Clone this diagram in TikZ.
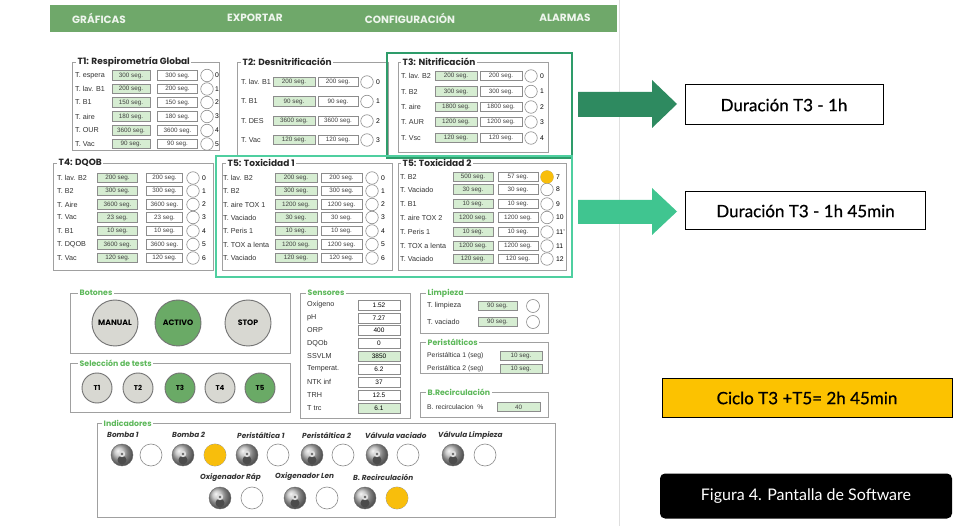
\documentclass[tikz,border=0pt]{standalone}
\usepackage{fontspec}
\setmainfont{Liberation Sans}
\newfontfamily\popfont{Poppins}
\newfontfamily\latofont{Lato}
\newfontfamily\latoheavy[FakeBold=0.6]{Lato}
\usetikzlibrary{calc}

\definecolor{barGreen}{HTML}{6FA86A}
\definecolor{fieldGreen}{HTML}{D6EDD2}
\definecolor{frameGray}{HTML}{A0A0A0}
\definecolor{hlDark}{HTML}{2E9C6A}
\definecolor{hlLight}{HTML}{4FCFA0}
\definecolor{arrowDark}{HTML}{2E8A60}
\definecolor{arrowLight}{HTML}{40C590}
\definecolor{ledYellow}{HTML}{F8BE0C}
\definecolor{btnGray}{HTML}{D8D8D2}
\definecolor{btnGreen}{HTML}{6AAA66}
\definecolor{titleGreen}{HTML}{5DB85A}
\definecolor{noteYellow}{HTML}{FCC200}

\tikzset{
  menu/.style={text=white!88!barGreen, font=\popfont\bfseries\fontsize{10.5}{11}\selectfont, inner sep=0},
  frame/.style={draw=frameGray, line width=0.8},
  ptitle/.style={anchor=west, fill=white, inner xsep=1.5, inner ysep=0.5,
    font=\popfont\bfseries\fontsize{9}{10}\selectfont, text=black!85},
  gtitle/.style={ptitle, text=titleGreen, font=\popfont\bfseries\fontsize{7.8}{8}\selectfont},
  rowlabel/.style={anchor=west, inner sep=0, font=\fontsize{7.2}{8}\selectfont, text=black!80},
  smlabel/.style={rowlabel, font=\fontsize{7.2}{8}\selectfont},
  gfield/.style={draw=black!45, line width=0.6, fill=fieldGreen, minimum height=9.5, inner sep=0,
    font=\fontsize{6.3}{7}\selectfont, text=black!75},
  wfield/.style={gfield, fill=white},
  led/.style={circle, draw=black!45, line width=0.6, fill=white, minimum size=12.5, inner sep=0},
  bigled/.style={led, minimum size=22},
  numlab/.style={anchor=west, inner sep=0, font=\fontsize{6.8}{7}\selectfont},
  bigbtn/.style={circle, draw=black!55, line width=0.9, fill=btnGray, minimum size=46, inner sep=0,
    font=\popfont\bfseries\fontsize{7.8}{8}\selectfont},
  smallbtn/.style={bigbtn, minimum size=30, font=\popfont\bfseries\fontsize{7}{8}\selectfont},
  knob/.style={circle, minimum size=22, inner sep=0, draw=black!60, shading=ball, ball color=gray!55,
    path picture={
      \fill[black!70] (path picture bounding box.center) ++(0,5) circle (4.5);
      \fill[gray!25] (path picture bounding box.center) ++(0,-1) circle (3.2);
      \fill[black!60] (path picture bounding box.center) ++(0,-1) circle (1.3);
    }},
  indlab/.style={anchor=west, inner sep=0, font=\popfont\bfseries\itshape\fontsize{7.3}{8}\selectfont, text=black!80},
  sensval/.style={draw=black!45, line width=0.6, fill=white, minimum height=10, minimum width=42, inner sep=0,
    font=\fontsize{6.5}{7}\selectfont},
  note/.style={draw=black, line width=1, fill=white, inner sep=0,
    font=\latoheavy\fontsize{17}{19}\selectfont},
}

% one row per entry: y / label / value / set-point / index
\newcommand\panelrows[2]{%
  \foreach \yy/\lab/\gv/\wv/\nn [count=\k] in {#2} {
    \node[rowlabel] (#1l\k) at (\lx,\yy) {\lab};
    \node[gfield, minimum width=\gw] (#1g\k) at (\gc,\yy) {\gv};
    \node[wfield, minimum width=\ww] (#1w\k) at (\wc,\yy) {\wv};
    \node[led] (#1c\k) at (\cx,\yy) {};
    \node[numlab] (#1n\k) at (\nx,\yy) {\nn};
  }}

\begin{document}
\begin{tikzpicture}[x=1pt,y=-1pt]
\useasboundingbox[fill=white] (0,0) rectangle (953,526);

% window edge and menu bar
\draw[gray!25, line width=0.8] (619,0) -- (619,526);
\fill[barGreen] (50,5) rectangle (617,32);
\node[menu] (mGraf) at (99,18) {GRÁFICAS};
\node[menu] (mExp) at (255,18) {EXPORTAR};
\node[menu] (mConf) at (410,18) {CONFIGURACIÓN};
\node[menu] (mAlarm) at (565,18) {ALARMAS};

% ---- T1
\draw[frame] (72,62) rectangle (219,150);
\node[ptitle] (t1title) at (76,62) {T1: Respirometría Global};
\def\lx{75}\def\gc{131}\def\gw{38}\def\wc{177.5}\def\ww{40}\def\cx{207}\def\nx{215}
\panelrows{a}{75.5/T. espera/300 seg./300 seg./0, 89/T. lav. B1/200 seg./200 seg./1,
  102.5/T. B1/150 seg./150 seg./2, 116.5/T. aire/180 seg./180 seg./3,
  130.5/T. OUR/3600 seg./3600 seg./4, 144/T. Vac/90 seg./90 seg./5}

% ---- T2
\draw[frame] (237,62) rectangle (388,155);
\node[ptitle] (t2title) at (241,62) {T2: Desnitrificación};
\def\lx{241}\def\gc{294}\def\gw{42}\def\wc{338}\def\ww{40}\def\cx{367}\def\nx{376}
\panelrows{b}{82/T. lav. B1/200 seg./200 seg./0, 101.5/T. B1/90 seg./90 seg./1,
  121/T. DES/3600 seg./3600 seg./2, 140/T. Vac/120 seg./120 seg./3}

% ---- T3
\draw[hlDark, line width=2.6] (387,53) rectangle (572,158);
\draw[frame] (398,62) rectangle (548,152);
\node[ptitle] (t3title) at (401,62) {T3: Nitrificación};
\def\lx{401}\def\gc{456}\def\gw{42}\def\wc{501}\def\ww{42}\def\cx{531}\def\nx{540}
\panelrows{c}{76/T. lav. B2/200 seg./200 seg./0, 91.5/T. B2/300 seg./300 seg./1,
  107/T. aire/1800 seg./1800 seg./2, 122/T. AUR/1200 seg./1200 seg./3,
  138/T. Vsc/120 seg./120 seg./4}

% ---- T4
\draw[frame] (53,163) rectangle (213,270);
\node[ptitle] (t4title) at (57,163) {T4: DQOB};
\def\lx{57}\def\gc{117.5}\def\gw{40}\def\wc{164.5}\def\ww{36}\def\cx{193}\def\nx{202}
\panelrows{d}{178/T. lav. B2/200 seg./200 seg./0, 191/T. B2/300 seg./300 seg./1,
  204.5/T. Aire/3600 seg./3600 seg./2, 217.5/T. Vac/23 seg./23 seg./3,
  231/T. B1/10 seg./10 seg./4, 244.5/T. DQOB/3600 seg./3600 seg./5,
  258/T. Vac/120 seg./120 seg./6}

% ---- T5
\draw[hlLight, line width=2.6] (216,156) rectangle (572,277);
\draw[frame] (222,163) rectangle (392,270);
\node[ptitle] (t5atitle) at (226,163) {T5: Toxicidad 1};
\def\lx{223}\def\gc{296}\def\gw{42}\def\wc{341.5}\def\ww{41}\def\cx{372}\def\nx{381}
\panelrows{e}{178/T. lav. B2/200 seg./200 seg./0, 191/T. B2/300 seg./300 seg./1,
  204.5/T. aire TOX 1/1200 seg./1200 seg./2, 217.5/T. Vaciado/30 seg./30 seg./3,
  231/T. Peris 1/10 seg./10 seg./4, 244.5/T. TOX a lenta/1200 seg./1200 seg./5,
  258/T. Vaciado/120 seg./120 seg./6}

\draw[frame] (398,163) rectangle (566,270);
\node[ptitle] (t5btitle) at (401,163) {T5: Toxicidad 2};
\def\lx{400}\def\gc{473}\def\gw{40}\def\wc{518}\def\ww{40}\def\cx{547}\def\nx{556}
\panelrows{f}{177/T. B2/500 seg./57 seg./7, 189.5/T. Vaciado/30 seg./30 seg./8,
  204/T. B1/10 seg./10 seg./9, 217.5/T. aire TOX 2/1200 seg./1200 seg./10,
  232/T. Peris 1/10 seg./10 seg./11', 246/T. TOX a lenta/1200 seg./1200 seg./11,
  259/T. Vaciado/120 seg./120 seg./12}
\fill[ledYellow] (fc1.center) circle (6.5);

% ---- Botones
\draw[frame] (70,293) rectangle (290,353);
\node[gtitle] (botTitle) at (78,293) {Botones};
\node[bigbtn] (bManual) at (115,323) {MANUAL};
\node[bigbtn, fill=btnGreen] (bActivo) at (178,323) {ACTIVO};
\node[bigbtn] (bStop) at (248,323) {STOP};

% ---- test selection
\draw[frame] (70,363) rectangle (290,412);
\node[gtitle] (selTitle) at (78,363) {Selección de tests};
\node[smallbtn] (s1) at (97,388) {T1};
\node[smallbtn] (s2) at (138,388) {T2};
\node[smallbtn, fill=btnGreen] (s3) at (180,388) {T3};
\node[smallbtn] (s4) at (220,388) {T4};
\node[smallbtn, fill=btnGreen] (s5) at (260,388) {T5};

% ---- Sensores
\draw[frame] (300,293) rectangle (410,418);
\node[gtitle] (senTitle) at (306,293) {Sensores};
\foreach \yy/\lab/\val/\fc [count=\k] in {305/Oxígeno/1.52/white, 318/pH/7.27/white,
  330.5/ORP/400/white, 343.5/DQOb/0/white, 356.5/SSVLM/3850/fieldGreen,
  369/Temperat./6.2/white, 382/NTK inf/37/white, 395/TRH/12.5/white, 408/T trc/6.1/fieldGreen} {
  \node[smlabel] (sl\k) at (307,\yy) {\lab};
  \node[sensval, fill=\fc] (sv\k) at (379,\yy) {\val};
}

% ---- Limpieza
\draw[frame] (420,293) rectangle (548,333);
\node[gtitle] (limTitle) at (426,293) {Limpieza};
\node[smlabel] (ll1) at (427,306) {T. limpieza};
\node[gfield, minimum width=39] (lg1) at (497.5,306) {90 seg.};
\node[led, minimum size=13] (lc1) at (533,306) {};
\node[smlabel] (ll2) at (427,322) {T. vaciado};
\node[gfield, minimum width=39] (lg2) at (497.5,322) {90 seg.};
\node[led, minimum size=13] (lc2) at (533,322) {};

% ---- Peristálticos
\draw[frame] (420,342) rectangle (548,373);
\node[gtitle] (perTitle) at (426,342) {Peristálticos};
\node[smlabel, font=\fontsize{6.8}{7}\selectfont] (pl1) at (427,356) {Peristáltica 1 (seg)};
\node[gfield, minimum width=42] (pg1) at (521,356) {10 seg.};
\node[smlabel, font=\fontsize{6.8}{7}\selectfont] (pl2) at (427,369) {Peristáltica 2 (seg)};
\node[gfield, minimum width=42] (pg2) at (521,369) {10 seg.};

% ---- B.Recirculación
\draw[frame] (420,392) rectangle (548,417);
\node[gtitle] (recTitle) at (426,392) {B.Recirculación};
\node[smlabel, font=\fontsize{6.8}{7}\selectfont] (rl1) at (427,407) {B. recirculacion \ \%};
\node[gfield, minimum width=43] (rg1) at (518.5,407) {40};

% ---- Indicadores
\draw[frame] (97,423) rectangle (555,517);
\node[gtitle] (indTitle) at (102,423) {Indicadores};
\foreach \lx/\lab [count=\k] in {107/Bomba 1, 172/Bomba 2, 237/Peristáltica 1,
  302/Peristáltica 2, 365/Válvula vaciado, 438/Válvula Limpieza} {
  \node[indlab] (il\k) at (\lx,435) {\lab};
}
\foreach \kx/\lx [count=\k] in {122/151, 183/215, 247/278, 312/343, 377/408, 453/485} {
  \node[knob] (ik\k) at (\kx,455) {};
  \node[bigled] (ic\k) at (\lx,455) {};
}
\foreach \lx/\lab [count=\k] in {200/Oxigenador Ráp, 275/Oxigenador Len, 353/B. Recirculación} {
  \node[indlab] (jl\k) at (\lx,477) {\lab};
}
\foreach \kx/\lx [count=\k] in {220/252, 295/327, 365/397} {
  \node[knob] (jk\k) at (\kx,498) {};
  \node[bigled] (jc\k) at (\lx,498) {};
}
\fill[ledYellow] (ic2.center) circle (11);
\fill[ledYellow] (jc3.center) circle (11);

% ---- notes on the right
\fill[arrowDark] (578,92) -- (652,92) -- (652,80) -- (677,104) -- (652,128) -- (652,117) -- (578,117) -- cycle;
\node[note, minimum width=198, minimum height=40] (d1) at (784,105) {Duración T3 - 1h};

\fill[arrowLight] (578,200) -- (652,200) -- (652,188) -- (677,211.5) -- (652,235) -- (652,224) -- (578,224) -- cycle;
\node[note, minimum width=240, minimum height=38] (d2) at (805.5,211) {Duración T3 - 1h 45min};

\node[note, fill=noteYellow, minimum width=290, minimum height=39] (cyc) at (807,398) {Ciclo T3 +T5= 2h 45min};

\node[fill=black, rounded corners=5, minimum width=292, minimum height=45, inner sep=0,
  text=white, font=\latofont\fontsize{16}{18}\selectfont] (cap) at (806,496) {Figura 4. Pantalla de Software};
\end{tikzpicture}
\end{document}
